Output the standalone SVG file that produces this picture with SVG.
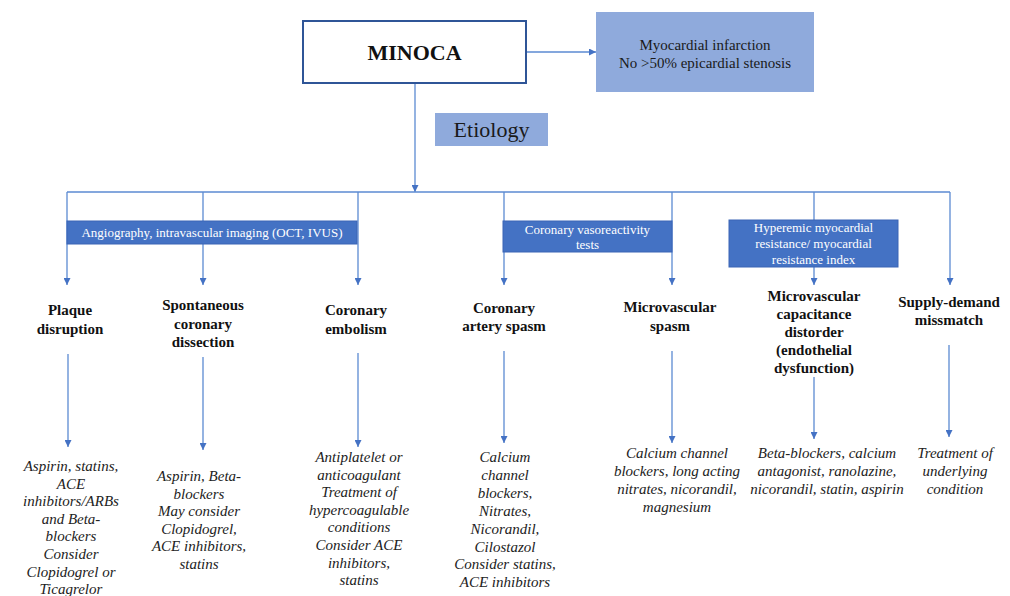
<svg xmlns="http://www.w3.org/2000/svg" width="1010" height="596" viewBox="0 0 1010 596">
<style>
.ln{stroke:#5B8AD2;stroke-width:1.3;fill:none}
.bar{fill:#4472C4;stroke:#3A65B5;stroke-width:1}
.lt{fill:#8FAADC}
</style>
<defs>
<marker id="ah" viewBox="0 0 10 10" refX="10" refY="5" markerWidth="7" markerHeight="7" markerUnits="userSpaceOnUse" orient="auto">
<path d="M0,0 L10,5 L0,10 z" fill="#4472C4"/>
</marker>
</defs>
<rect width="1010" height="596" fill="#fff"/>
<g id="connectors">
<path class="ln" d="M526,52 H596" marker-end="url(#ah)"/>
<path class="ln" d="M415,83 V192" marker-end="url(#ah)"/>
<path class="ln" d="M67,192 H950"/>
<path class="ln" d="M67,192 V285" marker-end="url(#ah)"/>
<path class="ln" d="M203,192 V285" marker-end="url(#ah)"/>
<path class="ln" d="M358,192 V285" marker-end="url(#ah)"/>
<path class="ln" d="M504,192 V285" marker-end="url(#ah)"/>
<path class="ln" d="M672,192 V285" marker-end="url(#ah)"/>
<path class="ln" d="M814,192 V285" marker-end="url(#ah)"/>
<path class="ln" d="M950,192 V285" marker-end="url(#ah)"/>
<path class="ln" d="M68,354 V447" marker-end="url(#ah)"/>
<path class="ln" d="M203,357 V450" marker-end="url(#ah)"/>
<path class="ln" d="M358,353 V447" marker-end="url(#ah)"/>
<path class="ln" d="M504,351 V443" marker-end="url(#ah)"/>
<path class="ln" d="M672,351 V443" marker-end="url(#ah)"/>
<path class="ln" d="M814,377 V439" marker-end="url(#ah)"/>
<path class="ln" d="M949,345 V437" marker-end="url(#ah)"/>
</g>
<g id="minoca">
<rect x="303" y="21" width="223" height="62" fill="#fff" stroke="#2F5597" stroke-width="2"/>
<text x="414.5" y="60" font-family="Liberation Serif, serif" font-weight="bold" font-size="22" fill="#111" text-anchor="middle">MINOCA</text>
</g>
<g id="definition" font-family="Liberation Serif, serif" font-size="15" fill="#1a1a1a" text-anchor="middle">
<rect class="lt" x="596" y="12" width="218" height="80"/>
<text x="705" y="50">Myocardial infarction</text>
<text x="705" y="68">No &gt;50% epicardial stenosis</text>
</g>
<g id="etiology" font-family="Liberation Serif, serif" font-size="22" fill="#1a1a1a" text-anchor="middle">
<rect class="lt" x="435" y="113" width="113" height="33"/>
<text x="491.5" y="137">Etiology</text>
</g>
<g font-family="Liberation Serif, Times New Roman, DejaVu Serif, serif" font-size="13" text-anchor="middle">
<g id="bar-angio">
<rect class="bar" x="67" y="221" width="290" height="23"/>
<text fill="#fff" x="212" y="237">Angiography, intravascular imaging (OCT, IVUS)</text>
</g>
<g id="bar-vaso">
<rect class="bar" x="503" y="221" width="169" height="31"/>
<text fill="#fff" x="587.5" y="233.5">Coronary vasoreactivity</text>
<text fill="#fff" x="587.5" y="248.5">tests</text>
</g>
<g id="bar-hyper">
<rect class="bar" x="729" y="220" width="169" height="47"/>
<text fill="#fff" x="813.5" y="232">Hyperemic myocardial</text>
<text fill="#fff" x="813.5" y="248">resistance/ myocardial</text>
<text fill="#fff" x="813.5" y="264">resistance index</text>
</g>
</g>
<g font-family="Liberation Serif, Times New Roman, DejaVu Serif, serif" font-weight="700" font-size="15px" fill="#111" text-anchor="middle">
<g id="plaque">
<text x="70" y="315">Plaque</text>
<text x="70" y="334">disruption</text>
</g>
<g id="scad">
<text x="203" y="310">Spontaneous</text>
<text x="203" y="328.5">coronary</text>
<text x="203" y="347">dissection</text>
</g>
<g id="embolism">
<text x="356" y="315">Coronary</text>
<text x="356" y="334">embolism</text>
</g>
<g id="cas">
<text x="504" y="313">Coronary</text>
<text x="504" y="331">artery spasm</text>
</g>
<g id="mvspasm">
<text x="670" y="312">Microvascular</text>
<text x="670" y="331">spasm</text>
</g>
<g id="capacitance">
<text x="814" y="301">Microvascular</text>
<text x="814" y="319">capacitance</text>
<text x="814" y="337">distorder</text>
<text x="814" y="355">(endothelial</text>
<text x="814" y="373">dysfunction)</text>
</g>
<g id="supply">
<text x="949" y="307">Supply-demand</text>
<text x="949" y="324.5">missmatch</text>
</g>
</g>
<g font-family="Liberation Serif, Times New Roman, DejaVu Serif, serif" font-style="italic" font-size="15px" fill="#222" text-anchor="middle">
<g id="tx-plaque">
<text x="71" y="471">Aspirin, statins,</text>
<text x="71" y="488.6">ACE</text>
<text x="71" y="506.2">inhibitors/ARBs</text>
<text x="71" y="523.8">and Beta-</text>
<text x="71" y="541.4">blockers</text>
<text x="71" y="559">Consider</text>
<text x="71" y="576.6">Clopidogrel or</text>
<text x="71" y="594.2">Ticagrelor</text>
</g>
<g id="tx-scad">
<text x="199" y="481">Aspirin, Beta-</text>
<text x="199" y="498.6">blockers</text>
<text x="199" y="516.2">May consider</text>
<text x="199" y="533.8">Clopidogrel,</text>
<text x="199" y="551.4">ACE inhibitors,</text>
<text x="199" y="569">statins</text>
</g>
<g id="tx-embolism">
<text x="359" y="462">Antiplatelet or</text>
<text x="359" y="479.6">anticoagulant</text>
<text x="359" y="497.2">Treatment of</text>
<text x="359" y="514.8">hypercoagulable</text>
<text x="359" y="532.4">conditions</text>
<text x="359" y="550">Consider ACE</text>
<text x="359" y="567.6">inhibitors,</text>
<text x="359" y="585.2">statins</text>
</g>
<g id="tx-cas">
<text x="505" y="462">Calcium</text>
<text x="505" y="479.9">channel</text>
<text x="505" y="497.8">blockers,</text>
<text x="505" y="515.7">Nitrates,</text>
<text x="505" y="533.6">Nicorandil,</text>
<text x="505" y="551.5">Cilostazol</text>
<text x="505" y="569.4">Consider statins,</text>
<text x="505" y="587.3">ACE inhibitors</text>
</g>
<g id="tx-mvspasm">
<text x="677" y="458">Calcium channel</text>
<text x="677" y="476">blockers, long acting</text>
<text x="677" y="494">nitrates, nicorandil,</text>
<text x="677" y="512">magnesium</text>
</g>
<g id="tx-capacitance">
<text x="827" y="458">Beta-blockers, calcium</text>
<text x="827" y="476">antagonist, ranolazine,</text>
<text x="827" y="494">nicorandil, statin, aspirin</text>
</g>
<g id="tx-supply">
<text x="955" y="458">Treatment of</text>
<text x="955" y="476">underlying</text>
<text x="955" y="494">condition</text>
</g>
</g>
</svg>
